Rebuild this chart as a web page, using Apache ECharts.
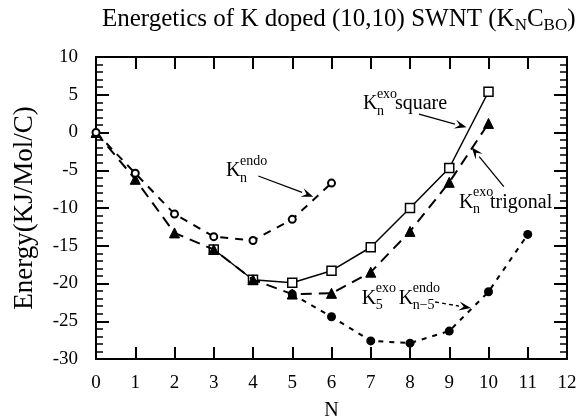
<!DOCTYPE html>
<html><head><meta charset="utf-8">
<script src="https://cdn.jsdelivr.net/npm/echarts@6/dist/echarts.min.js"></script>
<style>html,body{margin:0;padding:0;background:#fff}#c{width:577px;height:419px}</style>
</head><body><div id="c"></div>
<script>
const FONT = "'Liberation Serif','Times New Roman',Times,serif";

// axis ticks
const xTicks = [0,1,2,3,4,5,6,7,8,9,10,11,12];
const yTicks = [-30,-25,-20,-15,-10,-5,0,5,10];

// K_n^endo (hollow circles, dashed)
const endoN = [0,1,2,3,4,5,6];
const endoE = [0,-5.4,-10.8,-13.8,-14.3,-11.5,-6.7];
// K_n^exo trigonal (filled triangles, long dash)
const trigN = [0,1,2,3,4,5,6,7,8,9,10];
const trigE = [0,-6.2,-13.3,-15.5,-19.5,-21.4,-21.3,-18.5,-13.1,-6.6,1.2];
// K_n^exo square (hollow squares, solid)
const squareN = [3,4,5,6,7,8,9,10];
const squareE = [-15.5,-19.5,-19.9,-18.3,-15.2,-10.0,-4.7,5.4];
// K_5^exo K_(n-5)^endo (filled circles, short dash)
const mixN = [5,6,7,8,9,10,11];
const mixE = [-21.4,-24.4,-27.6,-27.9,-26.3,-21.1,-13.5];

// annotation arrows, in data coordinates [N, E]
const arrowFrom = [[4.135,-5.76],[8.23,2.45],[10.39,-7.18],[8.64,-22.45]];
const arrowTo   = [[5.536,-8.5],[9.44,0.69],[9.57,-1.96],[9.55,-23.25]];
const arrowDash = [false,false,false,true];
// annotation label anchors, in data coordinates
const labelAnchors = [[3.31,-5.1],[6.80,3.77],[9.25,-9.27],[6.77,-21.99]];

const zip = (a,b) => a.map((v,i)=>[v,b[i]]);

const chart = echarts.init(document.getElementById('c'), null, {renderer:'canvas'});

const axisLineStyle = {color:'#000', width:2};
const baseX = {
  type:'value', min:xTicks[0], max:xTicks[xTicks.length-1], interval:1,
  axisLine:{show:true, onZero:false, lineStyle:axisLineStyle},
  axisTick:{show:true, inside:true, length:12, lineStyle:{color:'#000', width:2}},
  splitLine:{show:false}
};
const baseY = {
  type:'value', min:yTicks[0], max:yTicks[yTicks.length-1], interval:5,
  axisLine:{show:true, onZero:false, lineStyle:axisLineStyle},
  axisTick:{show:true, inside:true, length:13, lineStyle:{color:'#000', width:2}},
  minorTick:{show:true, splitNumber:5, length:7, lineStyle:{color:'#000', width:1.5}},
  splitLine:{show:false}, minorSplitLine:{show:false}
};

chart.setOption({
  animation:false,
  backgroundColor:'#fff',
  title:{
    text:'Energetics of K doped (10,10) SWNT (K{s|N}C{s|BO})',
    left:97, top:0,
    textStyle:{
      fontFamily:FONT, fontSize:25, fontWeight:'normal', color:'#000', lineHeight:29,
      rich:{ s:{fontFamily:FONT, fontSize:17, color:'#000', lineHeight:16, verticalAlign:'bottom'} }
    }
  },
  grid:{left:96, right:10, top:57, bottom:60, containLabel:false, outerBoundsMode:'none'},
  xAxis:[
    Object.assign({}, baseX, {
      position:'bottom',
      axisLabel:{show:true, fontFamily:FONT, fontSize:19, color:'#000', margin:15},
      name:'N', nameLocation:'middle', nameGap:42,
      nameTextStyle:{fontFamily:FONT, fontSize:20, color:'#000'}
    }),
    Object.assign({}, baseX, {position:'top', axisLabel:{show:false}})
  ],
  yAxis:[
    Object.assign({}, baseY, {
      position:'left',
      axisLabel:{show:true, fontFamily:FONT, fontSize:19, color:'#000', margin:18},
      name:'Energy(KJ/Mol/C)', nameLocation:'middle', nameGap:58, nameRotate:90,
      nameTextStyle:{fontFamily:FONT, fontSize:27, color:'#000'}
    }),
    Object.assign({}, baseY, {position:'right', axisLabel:{show:false}})
  ],
  series:[
    {
      name:'square', type:'line', data:zip(squareN, squareE),
      symbol:'rect', symbolSize:9, z:3,
      itemStyle:{color:'#fff', borderColor:'#000', borderWidth:1.5},
      lineStyle:{color:'#000', width:1.5, type:'solid'}
    },
    {
      name:'trigonal', type:'line', data:zip(trigN, trigE),
      symbol:'triangle', symbolSize:10, z:4,
      itemStyle:{color:'#000', borderColor:'#000'},
      lineStyle:{color:'#000', width:2, type:[11,7]}
    },
    {
      name:'endo', type:'line', data:zip(endoN, endoE),
      symbol:'emptyCircle', symbolSize:7, z:4,
      itemStyle:{color:'#000', borderColor:'#000', borderWidth:1.3},
      lineStyle:{color:'#000', width:2, type:[8,7]}
    },
    {
      name:'mix', type:'line', data:zip(mixN, mixE),
      symbol:'circle', symbolSize:9, z:4,
      itemStyle:{color:'#000'},
      lineStyle:{color:'#000', width:2, type:[5,6]}
    }
  ]
});

// annotation text groups (K with stacked super/subscripts)
const labelParts = [
  [{t:'K',dx:0,dy:0,s:20},{t:'endo',dx:14,dy:-10,s:14},{t:'n',dx:14,dy:7,s:14}],
  [{t:'K',dx:0,dy:0,s:20},{t:'exo',dx:14,dy:-10,s:14},{t:'n',dx:14,dy:7,s:14},{t:'square',dx:32,dy:0,s:20}],
  [{t:'K',dx:0,dy:0,s:20},{t:'exo',dx:14,dy:-10,s:14},{t:'n',dx:14,dy:7,s:14},{t:'trigonal',dx:31,dy:0,s:20}],
  [{t:'K',dx:0,dy:0,s:20},{t:'exo',dx:14,dy:-10,s:14},{t:'5',dx:14,dy:7,s:14},
   {t:'K',dx:37,dy:0,s:20},{t:'endo',dx:51,dy:-10,s:14},{t:'n\u22125',dx:51,dy:7,s:14}]
];
const graphics = [];
labelAnchors.forEach((a,i)=>{
  const p = chart.convertToPixel({gridIndex:0}, a);
  labelParts[i].forEach(part=>{
    graphics.push({
      type:'text', x:p[0]+part.dx, y:p[1]+part.dy, silent:true,
      style:{text:part.t, fontFamily:FONT, fontSize:part.s, fill:'#000', align:'left', verticalAlign:'middle'}
    });
  });
});
// arrows
arrowFrom.forEach((f,i)=>{
  const a = chart.convertToPixel({gridIndex:0}, f);
  const b = chart.convertToPixel({gridIndex:0}, arrowTo[i]);
  const ang = Math.atan2(b[1]-a[1], b[0]-a[0]);
  const L = 12, W = 4.5;
  const bx = b[0]-L*Math.cos(ang), by = b[1]-L*Math.sin(ang);
  const nx = -Math.sin(ang), ny = Math.cos(ang);
  graphics.push({
    type:'line', silent:true,
    shape:{x1:a[0], y1:a[1], x2:bx, y2:by},
    style:{stroke:'#000', lineWidth:1.3, lineDash: arrowDash[i] ? [4,3] : null}
  });
  graphics.push({
    type:'polygon', silent:true,
    shape:{points:[[b[0],b[1]],[bx+nx*W,by+ny*W],[b[0]-0.6*L*Math.cos(ang), b[1]-0.6*L*Math.sin(ang)],[bx-nx*W,by-ny*W]]},
    style:{fill:'#000'}
  });
});
chart.setOption({graphic:graphics});
</script>
</body></html>
